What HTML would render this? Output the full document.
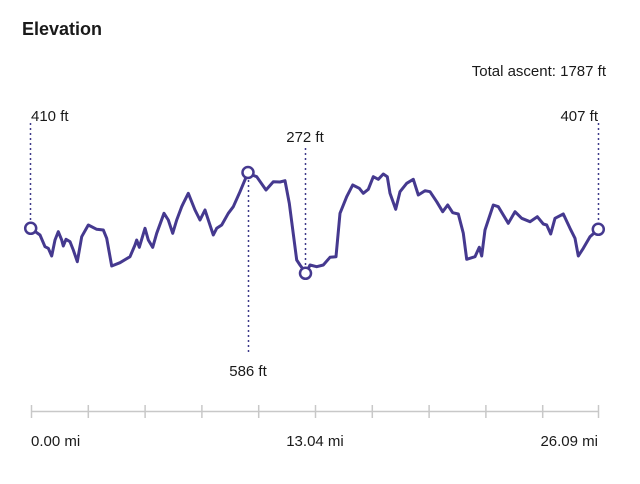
<!DOCTYPE html>
<html><head><meta charset="utf-8"><style>
html,body{margin:0;padding:0;background:#fff;width:640px;height:484px;overflow:hidden}
svg{display:block;font-family:"Liberation Sans",sans-serif}
</style></head><body>
<svg width="640" height="484" viewBox="0 0 640 484">
<text x="22" y="35" font-size="18" font-weight="bold" fill="#1a1a1a">Elevation</text>
<text x="606" y="76" font-size="15" fill="#1a1a1a" text-anchor="end">Total ascent: 1787 ft</text>
<g stroke="#3f3a8a" stroke-width="1.5" stroke-dasharray="2,3">
<line x1="30.5" y1="123" x2="30.5" y2="222"/>
<line x1="248.5" y1="180" x2="248.5" y2="355"/>
<line x1="305.5" y1="148" x2="305.5" y2="266"/>
<line x1="598.5" y1="123" x2="598.5" y2="223"/>
</g>
<g font-size="15" fill="#1a1a1a">
<text x="31" y="121">410 ft</text>
<text x="248" y="376" text-anchor="middle">586 ft</text>
<text x="305" y="142" text-anchor="middle">272 ft</text>
<text x="598" y="121" text-anchor="end">407 ft</text>
</g>
<polyline fill="none" stroke="#45398f" stroke-width="3" stroke-linejoin="round" stroke-linecap="round" points="30.7,228.3 40,235 45,246.7 48.3,248.3 51.7,256 55,240 58.3,231.7 61.7,240 63.3,246 66,239.3 70,241.7 73.3,250 77.3,261.7 81.7,236.7 88.3,225 96.7,229.3 103.3,230 106.7,238.3 111.7,266 120,262.7 130,256.7 135,245 136.7,240 139.3,247.3 145,228.3 148.3,240 152.7,247.3 156.7,233.3 164,213.3 168.3,220 172.7,233.3 176.7,220 181.7,206.7 183.3,203.3 188.3,193.3 195,210 200,220 205,210 208.3,220 213.3,235 216.7,228.3 221.7,225 228.3,213.3 233.3,206.7 240,191.7 247.7,173.3 256.7,176.7 266,190 273.3,181.7 280,182 285,180.7 289.3,203.3 296.7,260 300,265 306,273.3 310,265 316.7,266.7 323.3,265 330,257.3 336,256.7 340,213.3 346.7,196.7 352.7,185 359.3,188.3 363.3,193.3 368.3,189.3 373.3,176.7 378.3,179.3 383.3,174 387.3,176.7 390,193.3 395.7,209.3 400,191.7 406.7,183.3 413.3,179.3 418.3,195 425,190.7 430,191.7 436.7,201.7 442.7,211.7 447.7,205 452.7,212.7 458.3,214 463.3,233.3 466.7,259.3 475,256.7 479.3,247.3 481.7,256 485,230 488.3,220 493.3,205 498.3,206.7 508.3,223.3 515,211.7 521.7,218.3 530,221.7 537.3,216.7 543.3,224 546.7,225 550.7,234 555,218.3 563.3,214 570,228.3 575,238.3 578.3,256 583.3,248.3 590,236.7 598.3,229.3"/>
<g fill="#fff" stroke="#45398f" stroke-width="2.5">
<circle cx="30.7" cy="228.3" r="5.5"/>
<circle cx="248" cy="172.5" r="5.5"/>
<circle cx="305.5" cy="273.3" r="5.5"/>
<circle cx="598.3" cy="229.3" r="5.5"/>
</g>
<g stroke="#c8c8c8" stroke-width="1.5">
<line x1="31" y1="411.5" x2="599" y2="411.5"/>
<line x1="31.5" y1="405" x2="31.5" y2="418"/>
<line x1="88.3" y1="405" x2="88.3" y2="418"/>
<line x1="145.1" y1="405" x2="145.1" y2="418"/>
<line x1="201.9" y1="405" x2="201.9" y2="418"/>
<line x1="258.7" y1="405" x2="258.7" y2="418"/>
<line x1="315.5" y1="405" x2="315.5" y2="418"/>
<line x1="372.3" y1="405" x2="372.3" y2="418"/>
<line x1="429.1" y1="405" x2="429.1" y2="418"/>
<line x1="485.9" y1="405" x2="485.9" y2="418"/>
<line x1="542.7" y1="405" x2="542.7" y2="418"/>
<line x1="598.5" y1="405" x2="598.5" y2="418"/>
</g>
<g font-size="15" fill="#1a1a1a">
<text x="31" y="446">0.00 mi</text>
<text x="315" y="446" text-anchor="middle">13.04 mi</text>
<text x="598" y="446" text-anchor="end">26.09 mi</text>
</g>
</svg>
</body></html>
